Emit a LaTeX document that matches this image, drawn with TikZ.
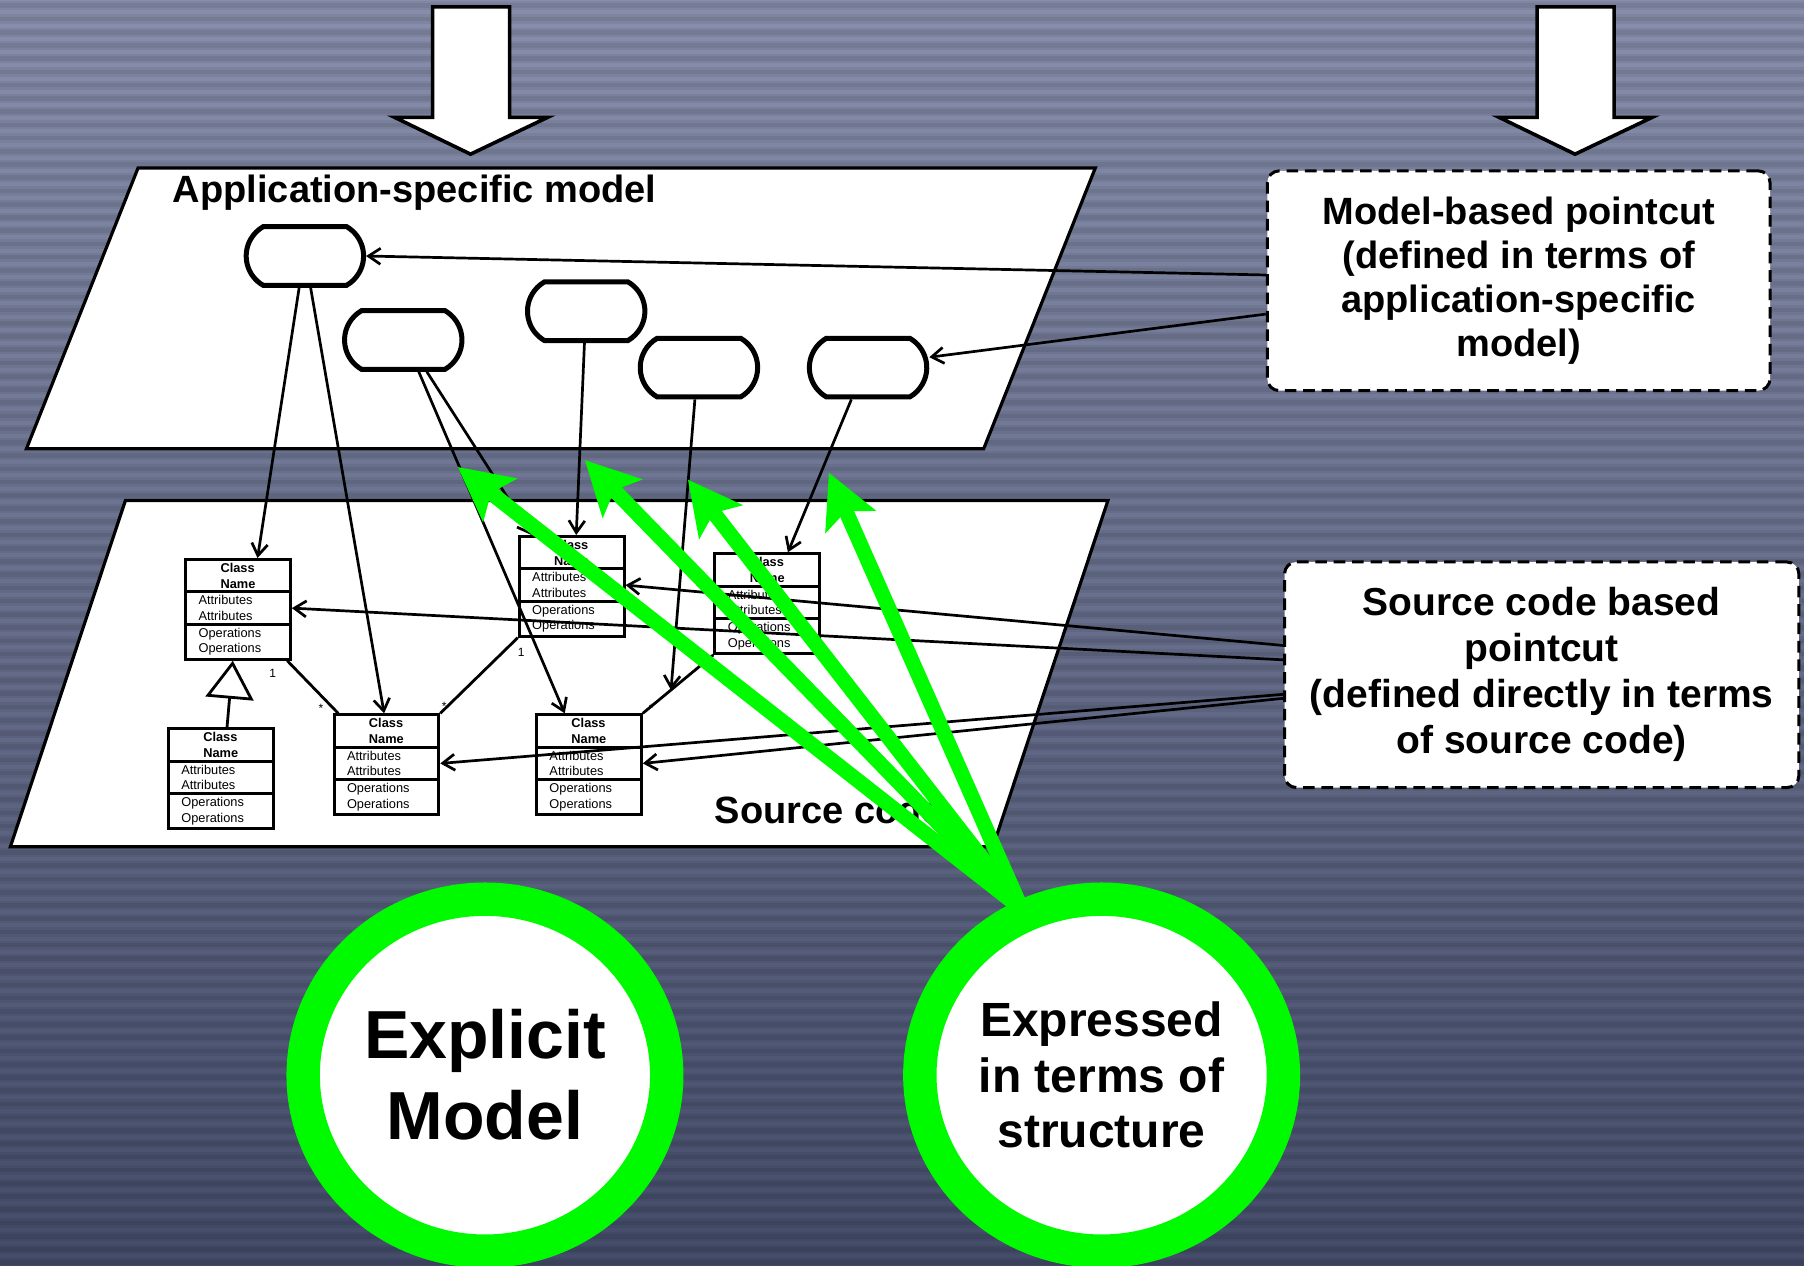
\documentclass[tikz,border=0pt]{standalone}
\usepackage{fontspec}
\setmainfont{Liberation Sans}
\definecolor{bgtop}{RGB}{136,143,172}
\definecolor{bgbot}{RGB}{68,76,106}
\definecolor{neon}{RGB}{0,250,0}
\usetikzlibrary{
	arrows.meta,
	positioning,
	shapes.geometric,
	shapes.misc,
	shapes.multipart,
	calc
}
\newcommand{\umlbody}{\textbf{Class}\\\textbf{Name}\nodepart{two}Attributes\\Attributes\nodepart{three}Operations\\Operations}
\tikzset{
  % arrow
	cstra/.style      ={-{Straight Barb[length=6pt,width=8pt]}, line width=1.35pt},
	cstgen/.style     ={-{Triangle[open,length=19pt,width=24pt]}, line width=1.4pt},
	cstassoc/.style   ={line width=1.4pt},
	cstgreen/.style   ={draw=neon, line width=7.5pt, -{Stealth[length=27pt,width=28pt,inset=6pt,line width=0pt]}},
	cstbig/.style     ={fill=white, draw=black, line width=1.8pt},
  % plane
	cstplane/.style   ={fill=white, draw=black, line width=1.6pt},
	cstlabel/.style   ={font=\fontsize{19}{22}\selectfont\bfseries, inner sep=0pt},
	cstmult/.style    ={font=\fontsize{6}{7}\selectfont, inner sep=0pt},
  % node
	cstoval/.style    ={rounded rectangle, rounded rectangle arc length=120, draw, fill=white, line width=2.5pt, minimum width=58.7pt, minimum height=29.3pt, inner sep=0pt},
	cstclass/.style   ={rectangle split, rectangle split parts=3, rectangle split part align={center,left,left}, draw, fill=white, line width=1.5pt, align=left, minimum width=52.4pt, inner xsep=6.5pt, inner ysep=1.1pt, font=\fontsize{6.4}{7.8}\selectfont, anchor=north west},
	cstcut/.style     ={draw, fill=white, line width=1.5pt, dash pattern=on 5.8pt off 3.4pt, rounded corners=6pt, align=center, inner sep=0pt},
	cstbubble/.style  ={ellipse, draw=neon, fill=white, line width=16.7pt, minimum width=181.8pt, minimum height=176pt, inner sep=0pt, align=center}
}

\begin{document}
\begin{tikzpicture}[x=0.5753pt, y=-0.5753pt]
	\useasboundingbox (0,0) rectangle (1568,1100);
	% striped backdrop
	\shade[top color=bgtop, bottom color=bgbot] (0,0) rectangle (1568,1100);
	\foreach \k in {0,...,95} {
		\fill[black, opacity=.06] (0,\k*11.5+1) rectangle (1568,\k*11.5+9);
		\fill[black, opacity=.07] (0,\k*11.5+3) rectangle (1568,\k*11.5+7);
	}
	% block arrows
	\draw[cstbig] (409,134) -- ++(-66,-32) -- ++(33,0) -- ++(0,-96) -- ++(67,0) -- ++(0,96) -- ++(33,0) -- cycle;
	\draw[cstbig] (1369,134) -- ++(-66,-32) -- ++(33,0) -- ++(0,-96) -- ++(67,0) -- ++(0,96) -- ++(33,0) -- cycle;
	% planes
	\draw[cstplane] (120,146) -- (952,146) -- (855,390) -- (23,390) -- cycle;
	\draw[cstplane] (109,435) -- (963,435) -- (863,736) -- (9,736) -- cycle;
	\node[cstlabel, anchor=base west] (asm) at (150,176) {Application-specific model};
	\node[cstlabel, anchor=base west] (src) at (621,716) {Source code};
	% model elements
	\node[cstoval] (o1) at (265,222.5) {};
	\node[cstoval] (o2) at (350.5,295.5) {};
	\node[cstoval] (o3) at (509.5,270.5) {};
	\node[cstoval] (o4) at (607.5,319.5) {};
	\node[cstoval] (o5) at (754.5,319.5) {};
	% classes
	\node[cstclass] (c1) at (160,485) {\umlbody};
	\node[cstclass] (c2) at (145,632) {\umlbody};
	\node[cstclass] (c3) at (289,620) {\umlbody};
	\node[cstclass] (c4) at (465,620) {\umlbody};
	\node[cstclass] (c5) at (450,465) {\umlbody};
	\node[cstclass] (c6) at (620,480) {\umlbody};
	\draw[cstgen] ($(c2.north)+(5.5,0)$) -- ($(c1.south)+(-4.5,0)$);
	\draw[cstassoc] ($(c1.south east)+(-4,0)$) -- ($(c3.north west)+(5,0)$);
	\draw[cstassoc] (c5.south west) -- (c3.north east);
	\draw[cstassoc] (c6.south west) -- coordinate[pos=.6] (link) (c4.north east);
	\node[cstmult] (m1) at (237,585) {1};
	\node[cstmult] (m2) at (279,616) {*};
	\node[cstmult] (m3) at (453,567) {1};
	\node[cstmult] (m4) at (386,614) {*};
	\node[cstmult] (m5) at (566,616) {*};
	% mapping model -> code
	\draw[cstra] ($(o1.south)+(-5,0)$) -- ($(c1.north)+(17,0)$);
	\draw[cstra] ($(o1.south)+(5,0)$) -- ($(c3.north)+(-2,0)$);
	\draw[cstra] ($(o2.south)+(13.5,0)$) -- ($(c4.north)+(-21,0)$);
	\draw[cstra] ($(o2.south)+(20.5,0)$) -- ($(c5.north west)+(12,0)$);
	\draw[cstra] ($(o3.south)+(-1.5,0)$) -- ($(c5.north)+(4,0)$);
	\draw[cstra] ($(o4.south)+(-3.5,0)$) -- (link);
	\draw[cstra] ($(o5.south)+(-14.5,0)$) -- ($(c6.north)+(18,0)$);
	% pointcuts
	\node[cstcut, minimum width=251.4pt, minimum height=109.9pt, font=\fontsize{19}{22.1}\selectfont\bfseries] (mcut) at (1320,244)
		{Model-based pointcut\\(defined in terms of\\application-specific\\model)};
	\node[cstcut, minimum width=257.2pt, minimum height=112.8pt, font=\fontsize{19.5}{23}\selectfont\bfseries] (scut) at (1340,586.5)
		{Source code based\\pointcut\\(defined directly in terms\\of source code)};
	\draw[cstra] ($(mcut.west)+(0,-5)$) -- (o1.east);
	\draw[cstra] ($(mcut.west)+(0,29)$) -- ($(o5.east)+(0,-9)$);
	\draw[cstra] ($(scut.west)+(0,-25.5)$) -- (c5.two east);
	\draw[cstra] ($(scut.west)+(0,-13)$) -- (c1.two east);
	\draw[cstra] ($(scut.west)+(0,17)$) -- (c3.two east);
	\draw[cstra] ($(scut.west)+(0,20.5)$) -- (c4.two east);
	% green arrows
	\coordinate (root) at (888,790);
	\coordinate (g1) at (398,406);
	\coordinate (g2) at (508.5,400);
	\coordinate (g3) at (598,417);
	\coordinate (g4) at (720.5,411);
	\draw[cstgreen] (root) -- (g1);
	\draw[cstgreen] (root) -- (g2);
	\draw[cstgreen] (root) -- (g3);
	\draw[cstgreen] (root) -- (g4);
	% bubbles
	\node[cstbubble, font=\fontsize{34}{40.5}\selectfont\bfseries] (explicit) at (421.5,934.5) {Explicit\\Model};
	\node[cstbubble, font=\fontsize{24}{27.7}\selectfont\bfseries] (structure) at (957.5,934.5) {Expressed\\in terms of\\structure};
\end{tikzpicture}
\end{document}
